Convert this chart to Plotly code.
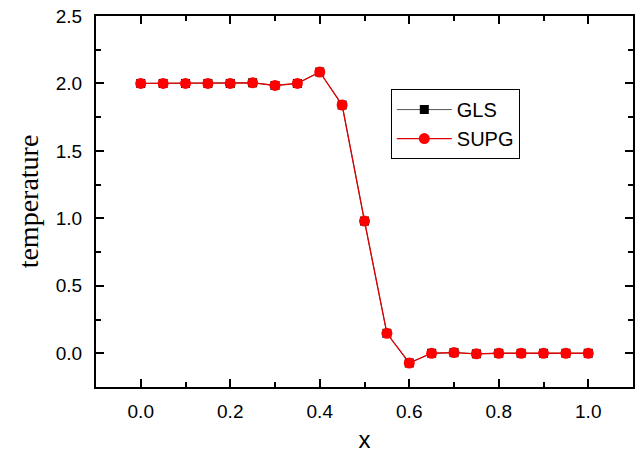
import plotly.graph_objects as go

x_vals = [0.0, 0.05, 0.1, 0.15, 0.2, 0.25, 0.3, 0.35, 0.4, 0.45, 0.5,
          0.55, 0.6, 0.65, 0.7, 0.75, 0.8, 0.85, 0.9, 0.95, 1.0]
gls = [2.0, 2.0, 2.0, 2.0, 2.0, 2.005, 1.985, 2.0, 2.085, 1.84, 0.98,
       0.148, -0.072, 0.0, 0.005, -0.004, 0.0, 0.0, 0.0, 0.0, 0.0]
supg = [2.0, 2.0, 2.0, 2.0, 2.0, 2.005, 1.985, 2.0, 2.085, 1.84, 0.98,
        0.148, -0.072, 0.0, 0.005, -0.004, 0.0, 0.0, 0.0, 0.0, 0.0]

fig = go.Figure()
fig.add_trace(go.Scatter(x=x_vals, y=gls, name="GLS", mode="lines+markers",
                         line=dict(color="#555555", width=1),
                         marker=dict(symbol="square", color="black", size=9)))
fig.add_trace(go.Scatter(x=x_vals, y=supg, name="SUPG", mode="lines+markers",
                         line=dict(color="#dd0000", width=1.3),
                         marker=dict(symbol="circle", color="#ff0000", size=11)))

axis_common = dict(showline=True, linecolor="black", linewidth=2, mirror="ticks",
                   ticks="inside", ticklen=8, tickwidth=2, tickcolor="black",
                   showgrid=False, zeroline=False,
                   tickfont=dict(family="Liberation Sans, Arial", size=19, color="black"))

fig.update_xaxes(range=[-0.1, 1.1], tickvals=[0, 0.2, 0.4, 0.6, 0.8, 1.0],
                 ticktext=["0.0", "0.2", "0.4", "0.6", "0.8", "1.0"],
                 minor=dict(tickvals=[0.1, 0.3, 0.5, 0.7, 0.9], ticklen=5, tickwidth=2,
                            tickcolor="black", ticks="inside"),
                 title=dict(text="x", font=dict(family="Liberation Sans, Arial", size=24, color="black"),
                            standoff=10),
                 ticklabelstandoff=6, **axis_common)
fig.update_yaxes(range=[-0.25, 2.5], tickvals=[0, 0.5, 1.0, 1.5, 2.0, 2.5],
                 ticktext=["0.0", "0.5", "1.0", "1.5", "2.0", "2.5"],
                 minor=dict(tickvals=[0.25, 0.75, 1.25, 1.75, 2.25], ticklen=5, tickwidth=2,
                            tickcolor="black", ticks="inside"),
                 title=dict(text="temperature", font=dict(family="Liberation Serif, Times New Roman", size=28, color="black"),
                            standoff=9),
                 ticklabelstandoff=8, **axis_common)

fig.update_layout(width=641, height=455, margin=dict(l=96, r=6, t=16, b=67),
                  plot_bgcolor="white", paper_bgcolor="white",
                  legend=dict(x=0.549, y=0.803, xanchor="left", yanchor="top",
                              bordercolor="black", borderwidth=1, bgcolor="white",
                              font=dict(family="Liberation Sans, Arial", size=20, color="black"),
                              tracegroupgap=0, itemwidth=55))

fig.write_html("out.html")
